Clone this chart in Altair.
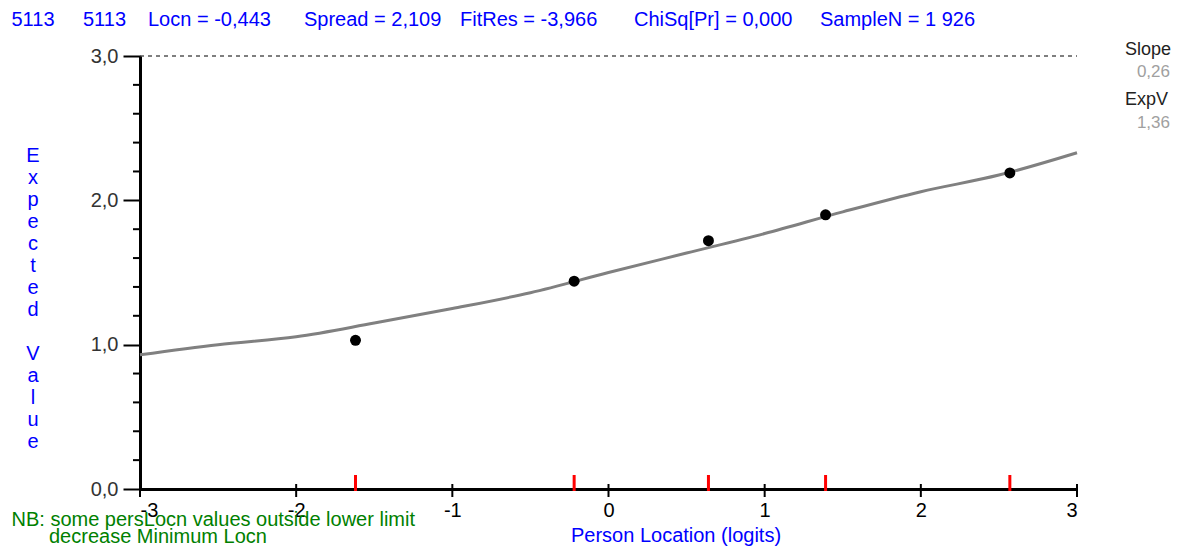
import altair as alt
import pandas as pd

# ---- data ----
curve_x = [-3.0, -2.5, -2.0, -1.5, -1.0, -0.5, 0.0, 0.5, 1.0, 1.5, 2.0, 2.5, 3.0]
curve_y = [0.93, 1.00, 1.055, 1.15, 1.25, 1.36, 1.50, 1.635, 1.77, 1.92, 2.06, 2.175, 2.33]

class_x = [-1.62, -0.22, 0.64, 1.39, 2.57]
class_y = [1.03, 1.44, 1.72, 1.90, 2.19]

x_ticks = [-3, -2, -1, 0, 1, 2, 3]
y_ticks = [0, 1, 2, 3]
y_minor = [0.2, 0.4, 0.6, 0.8, 1.2, 1.4, 1.6, 1.8, 2.2, 2.4, 2.6, 2.8]

stats = ["5113", "5113", "Locn = -0,443", "Spread = 2,109", "FitRes = -3,966",
         "ChiSq[Pr] = 0,000", "SampleN = 1 926"]
stat_x = [-128.5, -57, 8, 164, 320, 494, 680]

slope_label, slope_value = "Slope", "0,26"
expv_label, expv_value = "ExpV", "1,36"
note_lines = ["NB: some persLocn values outside lower limit", "decrease Minimum Locn"]
y_title_words = ["Expected", "Value"]
x_title = "Person Location (logits)"

FONT = "Liberation Sans"
W, H = 937, 433
LH = 22  # line height of the stacked y title

curve_df = pd.DataFrame({"x": curve_x, "y": curve_y})
class_df = pd.DataFrame({"x": class_x, "y": class_y})
xt_df = pd.DataFrame({"x": x_ticks})
ym_df = pd.DataFrame({"y": y_minor})
one = pd.DataFrame({"k": [0]})

xscale = alt.Scale(domain=[-3, 3], nice=False, zero=False)
yscale = alt.Scale(domain=[0, 3], nice=False, zero=False)

xaxis = alt.Axis(values=x_ticks, tickSize=0, labelFontSize=20, labelFont=FONT,
                 labelColor="#000000", labelPadding=11, domainColor="#000000",
                 domainWidth=3, grid=False, title=None,
                 labelExpr="toString(datum.value)")
yaxis = alt.Axis(values=y_ticks, tickSize=17, tickWidth=2, tickColor="#000000",
                 labelFontSize=20, labelFont=FONT, labelColor="#333333",
                 labelPadding=5, domainColor="#000000", domainWidth=3,
                 grid=False, title=None,
                 labelExpr="replace(format(datum.value, '.1f'), '.', ',')")

line = alt.Chart(curve_df).mark_line(color="#808080", strokeWidth=3,
                                     interpolate="monotone").encode(
    x=alt.X("x:Q", scale=xscale, axis=xaxis),
    y=alt.Y("y:Q", scale=yscale, axis=yaxis),
)

pts = alt.Chart(class_df).mark_circle(color="#000000", size=120, opacity=1).encode(
    x=alt.X("x:Q", scale=xscale),
    y=alt.Y("y:Q", scale=yscale),
)

dashed = alt.Chart(one).mark_rule(color="#000000", strokeWidth=1.2,
                                  strokeDash=[4, 4]).encode(
    x=alt.datum(-3), x2=alt.datum(3), y=alt.datum(3)
)

red_ticks = alt.Chart(class_df).mark_rule(color="#FF0000", strokeWidth=3).encode(
    x=alt.X("x:Q", scale=xscale), y=alt.value(419), y2=alt.value(435)
)

black_ticks = alt.Chart(xt_df).mark_rule(color="#000000", strokeWidth=2).encode(
    x=alt.X("x:Q", scale=xscale), y=alt.value(428), y2=alt.value(441)
)

minor_ticks = alt.Chart(ym_df).mark_rule(color="#000000", strokeWidth=2).encode(
    y=alt.Y("y:Q", scale=yscale), x=alt.value(-7), x2=alt.value(0)
)


def label(text, x, y, color, size=20, align="left", baseline="alphabetic", **kw):
    return alt.Chart(one).mark_text(text=text, font=FONT, fontSize=size,
                                    color=color, align=align,
                                    baseline=baseline, **kw).encode(
        x=alt.value(x), y=alt.value(y))


texts = [label(s, sx, -30, "#0000FF", size=20) for s, sx in zip(stats, stat_x)]
texts += [
    label(slope_label, 985, -1, "#222222", size=18),
    label(slope_value, 1030, 21, "#A0A0A0", size=17, align="right"),
    label(expv_label, 985, 49, "#222222", size=18),
    label(expv_value, 1030, 72, "#A0A0A0", size=17, align="right"),
    label(note_lines[0], -128.5, 470, "#008000", size=20),
    label(note_lines[1], -91, 487, "#008000", size=20),
    label(x_title, 536, 486, "#0000FF", size=20, align="center"),
    label(list(y_title_words[0]), -107, 106, "#0000FF", size=20,
          align="center", lineHeight=LH),
    label(list(y_title_words[1]), -107, 106 + (len(y_title_words[0]) + 1) * LH,
          "#0000FF", size=20, align="center", lineHeight=LH),
]

chart = alt.layer(dashed, line, pts, red_ticks, black_ticks, minor_ticks, *texts).properties(
    width=W, height=H,
    autosize=alt.AutoSizeParams(type="none"),
    padding={"left": 132, "top": 48, "right": 94, "bottom": 58},
    background="#FFFFFF",
).configure_view(strokeWidth=0)

chart.save("out.html", embed_options={"renderer": "svg", "actions": False})
